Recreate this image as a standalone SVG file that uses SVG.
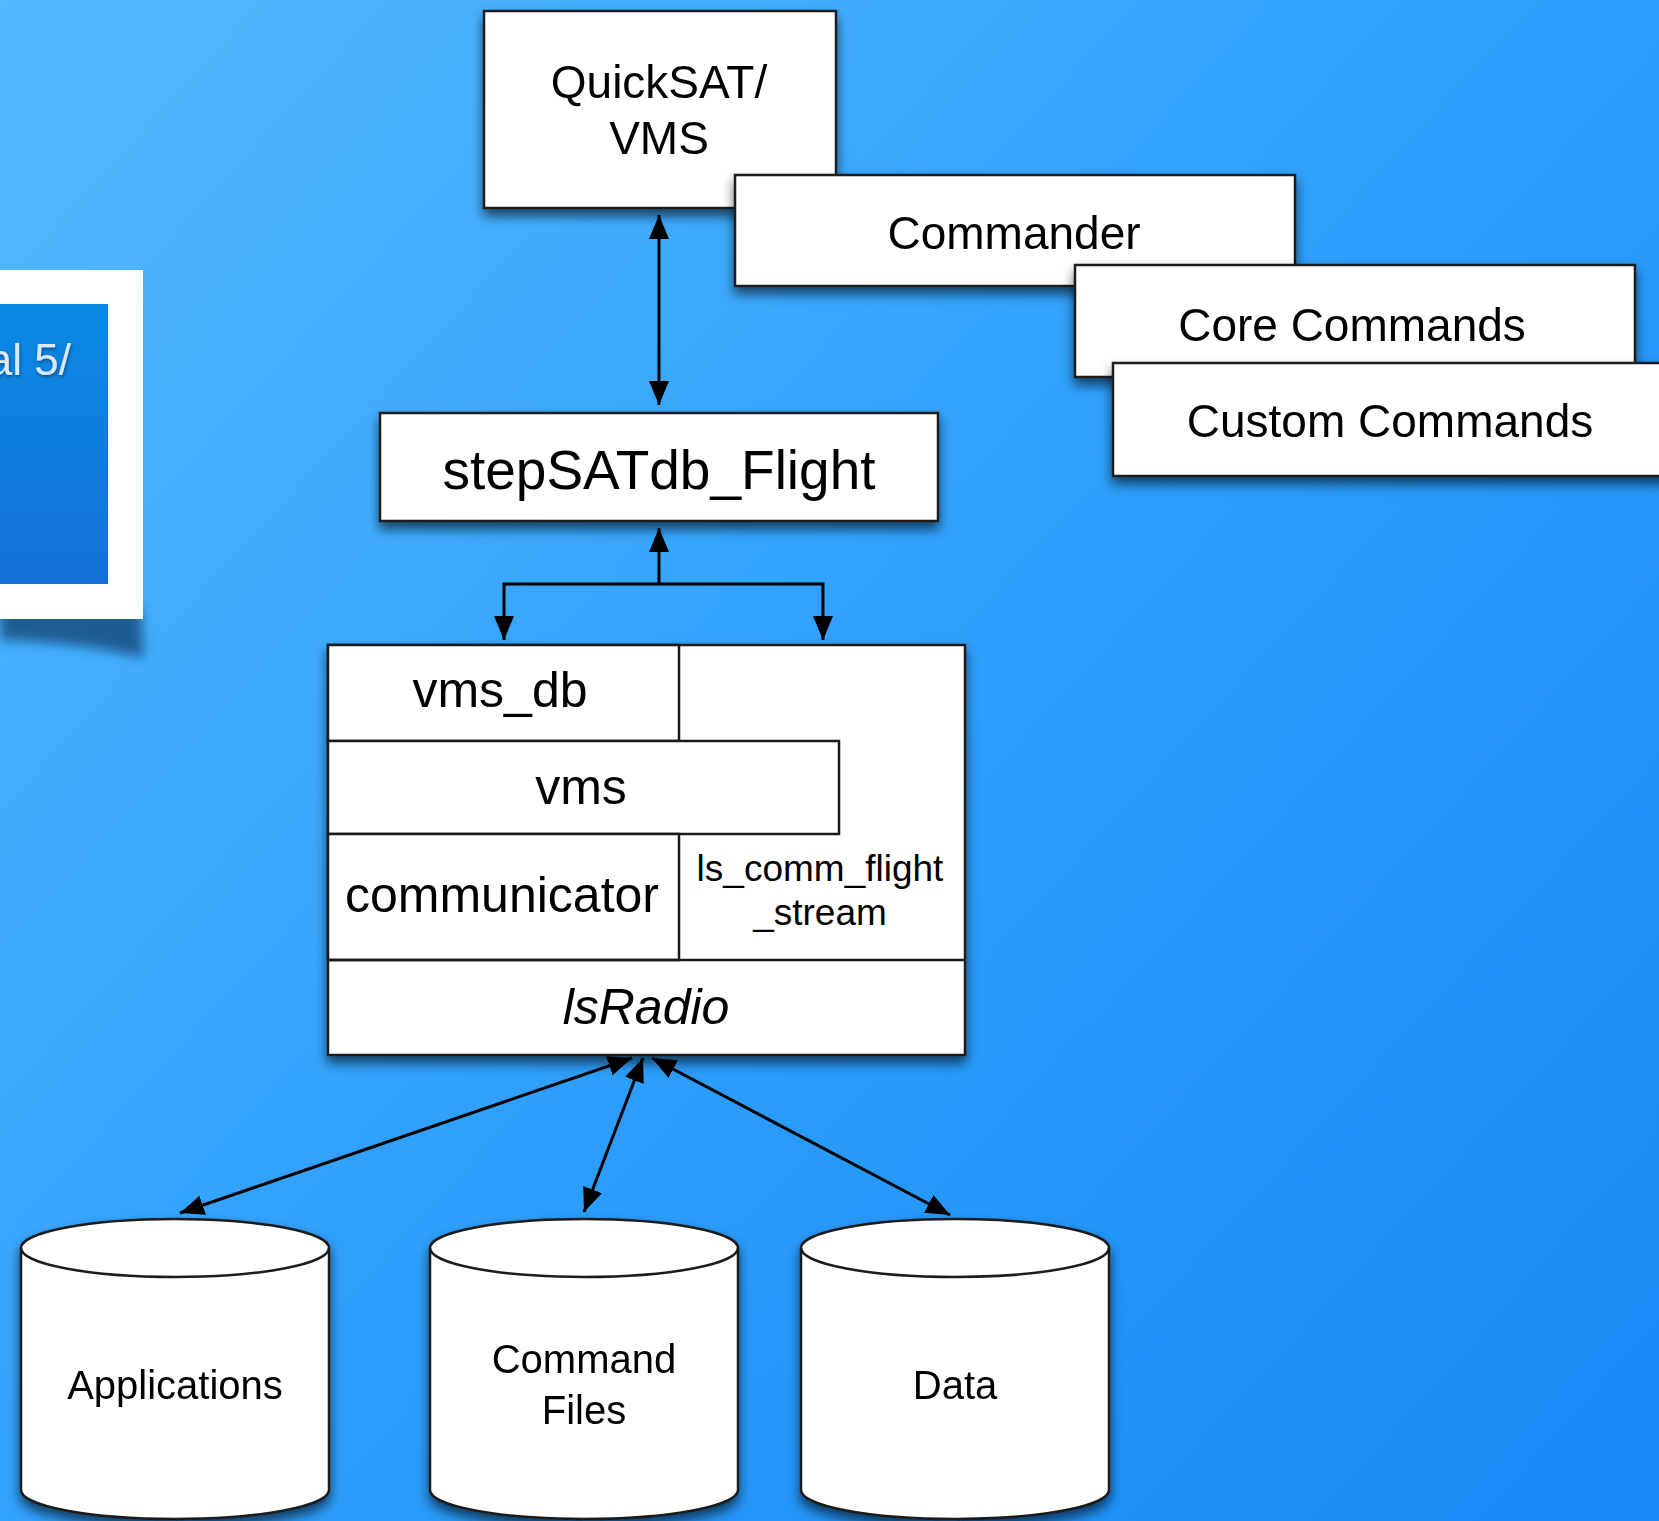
<svg xmlns="http://www.w3.org/2000/svg" width="1659" height="1521" viewBox="0 0 1659 1521">
<defs>
  <linearGradient id="bg" gradientUnits="userSpaceOnUse" x1="0" y1="0" x2="1659" y2="1521">
    <stop offset="0" stop-color="#55b9fd"/>
    <stop offset="0.5" stop-color="#2e9ffb"/>
    <stop offset="1" stop-color="#168af6"/>
  </linearGradient>
  <linearGradient id="panel" x1="0" y1="0" x2="0" y2="1">
    <stop offset="0" stop-color="#0a8ae3"/>
    <stop offset="1" stop-color="#1470d6"/>
  </linearGradient>
  <filter id="sh" x="-10%" y="-20%" width="120%" height="150%">
    <feDropShadow dx="0" dy="7" stdDeviation="6" flood-color="#000" flood-opacity="0.6"/>
  </filter>
  <filter id="blur" x="-20%" y="-50%" width="140%" height="200%">
    <feGaussianBlur stdDeviation="6"/>
  </filter>
  <filter id="tsh" x="-10%" y="-20%" width="130%" height="150%">
    <feDropShadow dx="1" dy="2" stdDeviation="1.5" flood-color="#003060" flood-opacity="0.6"/>
  </filter>
  <marker id="ah" viewBox="0 0 24 20" refX="24" refY="10" markerWidth="24" markerHeight="20" markerUnits="userSpaceOnUse" orient="auto-start-reverse">
    <path d="M0,0 L24,10 L0,20 Z" fill="#000"/>
  </marker>
  <style>
    .box { fill: #fff; stroke: #1a1a1a; stroke-width: 2.5; }
    .ln { fill: none; stroke: #1a1a1a; stroke-width: 2.5; }
    .t { font-family: "Liberation Sans", Arial, Helvetica, sans-serif; fill: #000; text-anchor: middle; }
    .t47 { font-size: 46px; }
    .t50 { font-size: 50px; }
    .t40 { font-size: 40px; }
    .conn { fill: none; stroke: #000; stroke-width: 3; }
  </style>
</defs>

<rect x="0" y="0" width="1659" height="1521" fill="url(#bg)"/>

<!-- left partial slide thumbnail -->
<g id="thumb">
  <path d="M0,605 L140,605 L144,658 Q80,642 0,640 Z" fill="#0d3a66" opacity="0.7" filter="url(#blur)"/>
  <rect x="0" y="270" width="143" height="349" fill="#fff"/>
  <rect x="0" y="304" width="108" height="280" fill="url(#panel)"/>
  <text x="71" y="375" font-family="Liberation Sans, Arial, sans-serif" font-size="44" fill="#dce8f4" text-anchor="end" filter="url(#tsh)">al 5/</text>
</g>

<g id="quicksat" filter="url(#sh)">
  <rect class="box" x="484" y="11" width="352" height="197"/>
  <text class="t t47" x="659" y="98">QuickSAT/</text>
  <text class="t t47" x="659" y="154">VMS</text>
</g>

<g id="commander" filter="url(#sh)">
  <rect class="box" x="735" y="175" width="560" height="111"/>
  <text class="t t47" x="1014" y="249">Commander</text>
</g>

<g id="core" filter="url(#sh)">
  <rect class="box" x="1075" y="265" width="560" height="112"/>
  <text class="t t47" x="1352" y="341">Core Commands</text>
</g>

<g id="custom" filter="url(#sh)">
  <rect class="box" x="1113" y="363" width="565" height="113"/>
  <text class="t t47" x="1390" y="437">Custom Commands</text>
</g>

<g id="stepsatdb" filter="url(#sh)">
  <rect class="box" x="380" y="413" width="558" height="108"/>
  <text class="t" font-size="55" x="659" y="489">stepSATdb_Flight</text>
</g>

<g id="stack">
  <rect class="box" x="328" y="645" width="637" height="410" filter="url(#sh)"/>
  <g id="vms_db">
    <rect class="box" x="328" y="645" width="351" height="96"/>
    <text class="t t50" x="500" y="707">vms_db</text>
  </g>
  <g id="vms">
    <rect class="box" x="328" y="741" width="511" height="93"/>
    <text class="t t50" x="581" y="804">vms</text>
  </g>
  <g id="communicator">
    <rect class="box" x="328" y="834" width="351" height="126"/>
    <text class="t t50" x="502" y="912">communicator</text>
  </g>
  <g id="ls_comm_flight_stream">
    <text class="t" font-size="37" x="820" y="881">ls_comm_flight</text>
    <text class="t" font-size="37" x="820" y="925">_stream</text>
  </g>
  <g id="lsradio">
    <line class="ln" x1="328" y1="960" x2="965" y2="960"/>
    <text class="t t50" font-style="italic" x="646" y="1024">lsRadio</text>
  </g>
</g>

<g id="applications" filter="url(#sh)">
  <path class="box" d="M21,1248 A154,29 0 0 1 329,1248 L329,1490 A154,29 0 0 1 21,1490 Z"/>
  <path class="ln" d="M21,1248 A154,29 0 0 0 329,1248"/>
  <text class="t t40" x="175" y="1399">Applications</text>
</g>

<g id="command_files" filter="url(#sh)">
  <path class="box" d="M430,1248 A154,29 0 0 1 738,1248 L738,1490 A154,29 0 0 1 430,1490 Z"/>
  <path class="ln" d="M430,1248 A154,29 0 0 0 738,1248"/>
  <text class="t t40" x="584" y="1373">Command</text>
  <text class="t t40" x="584" y="1424">Files</text>
</g>

<g id="data" filter="url(#sh)">
  <path class="box" d="M801,1248 A154,29 0 0 1 1109,1248 L1109,1490 A154,29 0 0 1 801,1490 Z"/>
  <path class="ln" d="M801,1248 A154,29 0 0 0 1109,1248"/>
  <text class="t t40" x="955" y="1399">Data</text>
</g>

<g id="connectors">
  <line class="conn" x1="659" y1="215" x2="659" y2="405" marker-start="url(#ah)" marker-end="url(#ah)"/>
  <line class="conn" x1="659" y1="584" x2="659" y2="528" marker-end="url(#ah)"/>
  <path class="conn" d="M504,640 L504,584 L823,584 L823,640" marker-start="url(#ah)" marker-end="url(#ah)"/>
  <line class="conn" x1="180" y1="1213" x2="632" y2="1058" marker-start="url(#ah)" marker-end="url(#ah)"/>
  <line class="conn" x1="584" y1="1212" x2="643" y2="1058" marker-start="url(#ah)" marker-end="url(#ah)"/>
  <line class="conn" x1="950" y1="1215" x2="652" y2="1058" marker-start="url(#ah)" marker-end="url(#ah)"/>
</g>
</svg>
